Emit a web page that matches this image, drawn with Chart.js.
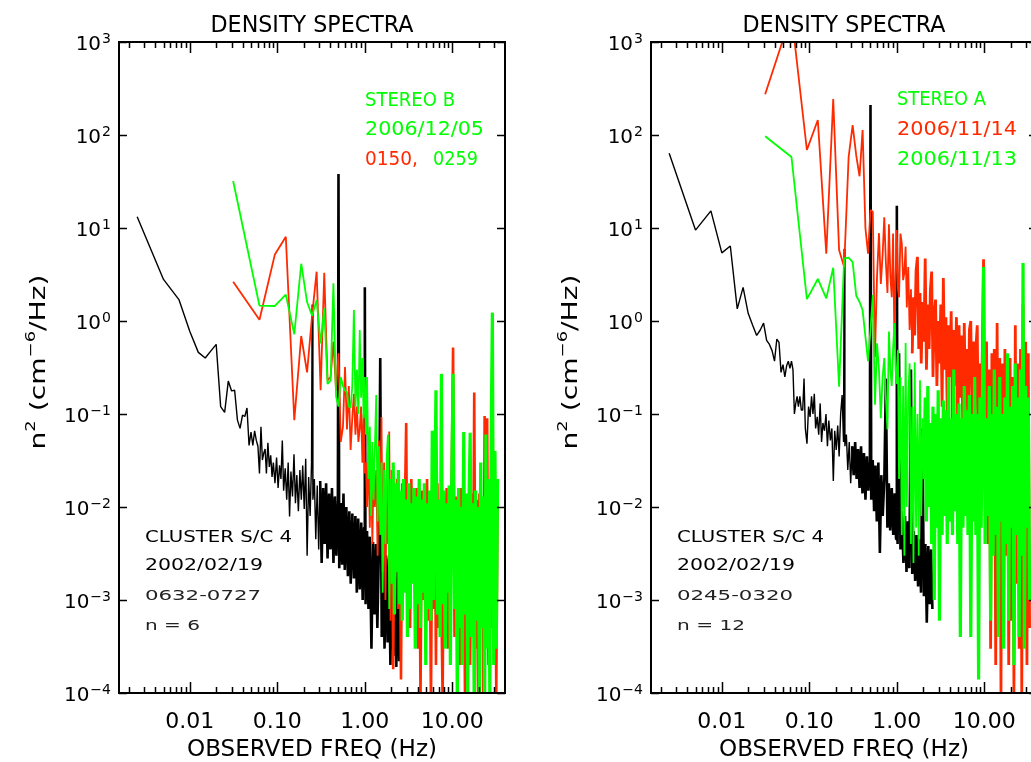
<!DOCTYPE html>
<html lang="en">
<head>
<meta charset="UTF-8">
<title>Density Spectra</title>
<script src="https://cdn.jsdelivr.net/npm/chart.js"></script>
<style>
  html, body { margin: 0; padding: 0; background: #fff; overflow: hidden; width: 1031px; height: 762px; }
  .panel { position: absolute; top: 0; width: 520px; height: 762px; }
  #left { left: 0; }
  #right { left: 532px; }
</style>
</head>
<body>
<div class="panel" id="left"><canvas id="chartB"></canvas></div>
<div class="panel" id="right"><canvas id="chartA"></canvas></div>
<script>
// Cluster S/C 4 frequency samples (Hz), shared by both panels
const clusterFreq = [
  0.0025, 0.005, 0.0075, 0.01, 0.0125, 0.015, 0.0175, 0.02, 0.0225, 0.025,
  0.0275, 0.03, 0.0325, 0.035, 0.0375, 0.04, 0.0425, 0.045, 0.0475, 0.05,
  0.0525, 0.055, 0.0575, 0.06, 0.0625, 0.065, 0.0675, 0.07, 0.0725, 0.075,
  0.078, 0.081, 0.084, 0.087, 0.09, 0.094, 0.098, 0.102, 0.106, 0.11,
  0.114, 0.118, 0.123, 0.128, 0.133, 0.138, 0.143, 0.149, 0.155, 0.161,
  0.167, 0.174, 0.181, 0.188, 0.195, 0.203, 0.211, 0.219, 0.228, 0.237,
  0.246, 0.25, 0.255, 0.265, 0.275, 0.286, 0.297, 0.309, 0.321, 0.334,
  0.347, 0.361, 0.375, 0.39, 0.405, 0.421, 0.438, 0.455, 0.473, 0.492,
  0.5, 0.51, 0.53, 0.55, 0.57, 0.59, 0.615, 0.64, 0.665, 0.69,
  0.72, 0.75, 0.78, 0.81, 0.84, 0.875, 0.91, 0.945, 0.98, 1.0,
  1.02, 1.06, 1.1, 1.14, 1.19, 1.24, 1.29, 1.34, 1.39, 1.45,
  1.5, 1.56, 1.62, 1.68, 1.75, 1.82, 1.89, 1.96, 2.04, 2.12,
  2.2, 2.29, 2.38, 2.47, 2.55
];

// Cluster 2002/02/19 0632-0727 (left panel, black)
const cluster0632 = [
  13.2, 2.8, 1.7, 0.77, 0.46, 0.40, 0.48, 0.56, 0.12, 0.104,
  0.226, 0.177, 0.18, 0.086, 0.07, 0.097, 0.094, 0.116, 0.046, 0.064,
  0.046, 0.066, 0.052, 0.045, 0.023, 0.073, 0.032, 0.038, 0.042, 0.023,
  0.049, 0.027, 0.036, 0.021, 0.03, 0.018, 0.034, 0.016, 0.028, 0.02,
  0.052, 0.015, 0.026, 0.012, 0.03, 0.0079, 0.024, 0.013, 0.037, 0.011,
  0.022, 0.009, 0.025, 0.012, 0.028, 0.0095, 0.033, 0.003, 0.021, 0.008,
  0.03, 1.5, 0.012, 0.02, 0.0045, 0.017, 0.0035, 0.019, 0.0025, 0.016,
  0.004, 0.018, 0.0028, 0.014, 0.0035, 0.016, 0.0025, 0.013, 0.003, 0.012,
  38, 0.0022, 0.011, 0.0024, 0.014, 0.0021, 0.01, 0.0018, 0.009, 0.0015,
  0.0085, 0.0017, 0.008, 0.0012, 0.0075, 0.0013, 0.0068, 0.001, 0.006, 2.3,
  0.0009, 0.0055, 0.0008, 0.0048, 0.0003, 0.0042, 0.0007, 0.004, 0.0005, 0.0037,
  0.4, 0.0004, 0.0034, 0.0003, 0.003, 0.00035, 0.0028, 0.0002, 0.0026, 0.00025,
  0.0024, 0.00019, 0.0022, 0.00022, 0.0012
];

// Cluster 2002/02/19 0245-0320 (right panel, black)
const cluster0245 = [
  63.5, 9.5, 15.3, 5.4, 6.4, 1.35, 2.3, 1.21, 0.9, 0.7,
  0.8, 0.95, 0.62, 0.56, 0.48, 0.37, 0.64, 0.59, 0.28, 0.34,
  0.25, 0.33, 0.37, 0.31, 0.37, 0.3, 0.1, 0.13, 0.155, 0.12,
  0.155, 0.11, 0.11, 0.24, 0.07, 0.048, 0.12, 0.093, 0.155, 0.1,
  0.165, 0.07, 0.093, 0.06, 0.13, 0.05, 0.08, 0.066, 0.1, 0.045,
  0.085, 0.052, 0.07, 0.019, 0.066, 0.041, 0.075, 0.035, 0.1, 0.16,
  0.05, 6.0, 0.045, 0.06, 0.025, 0.05, 0.018, 0.045, 0.022, 0.05,
  0.02, 0.042, 0.016, 0.045, 0.014, 0.038, 0.012, 0.035, 0.015, 0.03,
  210, 0.012, 0.032, 0.009, 0.028, 0.007, 0.03, 0.0032, 0.022, 0.008,
  0.02, 0.24, 0.006, 0.018, 0.0056, 0.016, 0.005, 0.014, 0.0045, 17.3,
  0.004, 0.45, 0.0035, 0.009, 0.0025, 0.008, 0.002, 0.007, 0.0022, 0.3,
  0.0019, 0.0055, 0.0016, 0.005, 0.0014, 0.0045, 0.0012, 0.07, 0.0011, 0.004,
  0.00057, 0.0038, 0.0009, 0.0035, 0.0008
];

// STEREO frequency samples (Hz), shared by all STEREO spectra
const stereoFreq = [
  0.03125, 0.0625, 0.09375, 0.125, 0.15625, 0.1875, 0.21875, 0.25, 0.28125, 0.3125,
  0.34375, 0.375, 0.40625, 0.4375, 0.46875, 0.5, 0.53125, 0.5625, 0.59375, 0.625,
  0.65625, 0.6875, 0.71875, 0.75, 0.78125, 0.8125, 0.84375, 0.875, 0.90625, 0.9375,
  0.96875, 1.0, 1.03, 1.06, 1.1, 1.14, 1.18, 1.22, 1.26, 1.3,
  1.35, 1.4, 1.45, 1.5, 1.55, 1.6, 1.66, 1.72, 1.78, 1.84,
  1.9, 1.97, 2.04, 2.11, 2.18, 2.26, 2.34, 2.42, 2.5, 2.59,
  2.68, 2.77, 2.87, 2.97, 3.07, 3.18, 3.29, 3.4, 3.52, 3.64,
  3.77, 3.9, 4.04, 4.18, 4.33, 4.48, 4.64, 4.8, 4.97, 5.14,
  5.32, 5.5, 5.7, 5.9, 6.1, 6.3, 6.5, 6.75, 7.0, 7.25,
  7.5, 7.75, 8.0, 8.3, 8.6, 8.9, 9.2, 9.5, 9.8, 10.2,
  10.6, 11.0, 11.4, 11.8, 12.2, 12.6, 13.0, 13.5, 14.0, 14.5,
  15.0, 15.5, 16.0, 16.6, 17.2, 17.8, 18.4, 19.0, 19.7, 20.4,
  21.1, 21.8, 22.6, 23.4, 24.2, 25.0, 25.9, 26.8, 27.7, 28.7,
  29.7, 30.7, 31.8, 32.9
];

// STEREO B 2006/12/05 0150 (red)
const stereoB0150 = [
  2.65, 1.03, 5.2, 8.05, 0.086, 0.69, 0.28, 1.16, 3.39, 0.18,
  3.3, 0.23, 0.25, 0.6, 0.18, 0.45, 0.05, 0.073, 0.32, 0.068,
  0.2, 0.041, 0.09, 0.165, 0.06, 0.12, 0.05, 0.07, 0.12, 0.03,
  0.1, 0.023, 0.03, 0.01, 0.04, 0.006, 0.032, 0.004, 0.03, 0.01,
  0.025, 0.003, 0.052, 0.008, 0.093, 0.002, 0.03, 0.001, 0.02, 0.004,
  0.065, 0.0006, 0.025, 0.00018, 0.015, 0.003, 0.02, 0.0008, 0.012, 0.00014,
  0.018, 0.002, 0.01, 0.08, 0.0009, 0.014, 0.0005, 0.02, 0.002, 0.012,
  0.0007, 0.016, 0.0003, 0.011, 0.00008, 0.015, 0.001, 0.012, 0.0004, 0.02,
  0.0006, 0.01, 0.00007, 0.015, 0.0008, 0.013, 0.0002, 0.018, 0.0005, 0.012,
  0.0009, 0.00008, 0.014, 0.0006, 0.016, 0.0003, 0.011, 0.001, 0.015, 0.52,
  0.0004, 0.013, 0.0009, 0.012, 0.0002, 0.016, 0.0007, 0.01, 0.00006, 0.013,
  0.0008, 0.011, 0.0002, 0.014, 0.0005, 0.17, 0.0003, 0.012, 0.00007, 0.014,
  0.0006, 0.011, 0.0001, 0.095, 0.0004, 0.09, 0.0002, 0.013, 0.0005, 0.5,
  0.0003, 0.012, 0.0001, 0.015
];

// STEREO B 2006/12/05 0259 (green)
const stereoB0259 = [
  32, 1.46, 1.45, 1.92, 0.72, 4.13, 1.6, 1.14, 1.68, 0.575,
  1.37, 0.21, 0.23, 2.54, 0.155, 0.12, 0.25, 0.2, 0.18, 0.17,
  0.12, 0.116, 0.2, 1.31, 0.12, 0.3, 0.1, 0.8, 0.15, 0.4,
  0.09, 0.25, 0.06, 0.25, 0.02, 0.073, 0.008, 0.05, 0.012, 0.04,
  0.16, 0.007, 0.045, 0.005, 0.03, 0.0012, 0.025, 0.004, 0.035, 0.06,
  0.0008, 0.02, 0.0015, 0.03, 0.0007, 0.018, 0.002, 0.025, 0.0009, 0.015,
  0.0006, 0.02, 0.0012, 0.012, 0.0004, 0.018, 0.0008, 0.011, 0.0015, 0.016,
  0.0003, 0.013, 0.0009, 0.02, 0.0005, 0.012, 0.0012, 0.018, 0.0002, 0.011,
  0.0008, 0.015, 0.0006, 0.066, 0.001, 0.014, 0.18, 0.0007, 0.012, 0.0004,
  0.27, 0.0009, 0.015, 0.0003, 0.011, 0.0012, 0.017, 0.0002, 0.013, 0.27,
  0.0008, 0.012, 0.00008, 0.016, 0.0005, 0.01, 0.0002, 0.064, 0.0007, 0.014,
  0.0001, 0.012, 0.063, 0.0004, 0.011, 0.00006, 0.015, 0.0006, 0.01, 0.0001,
  0.03, 0.0005, 0.013, 0.00007, 0.06, 0.0003, 0.02, 0.0001, 0.045, 1.23,
  0.0002, 0.04, 0.0003, 0.02
];

// STEREO A 2006/11/14 (red)
const stereoA1114 = [
  274, 2000, 69, 145, 5.3, 244, 5.8, 3.8, 58, 128,
  60, 36, 113, 10, 5.3, 15.6, 15, 0.41, 3, 8.8,
  2.5, 5.1, 13, 4.2, 2.0, 11, 3, 1.8, 8.7, 0.63,
  3, 9.5, 2.2, 1.8, 8.7, 6.8, 2.75, 3.3, 6.3, 1.4,
  3.8, 0.8, 2.2, 0.45, 1.8, 0.7, 3.5, 4.9, 0.5, 2.0,
  0.35, 1.6, 0.6, 4.7, 0.3, 1.5, 0.5, 2.2, 3.4, 0.25,
  1.2, 1.7, 0.2, 1.0, 0.35, 1.5, 0.12, 2.9, 0.3, 1.1,
  0.1, 0.9, 0.25, 1.27, 0.08, 0.8, 0.2, 1.1, 0.06, 0.9,
  0.15, 0.7, 0.05, 0.95, 0.12, 0.5, 0.045, 0.8, 1.0, 0.07,
  0.6, 0.04, 0.5, 0.9, 0.03, 0.35, 0.06, 0.5, 4.6, 0.02,
  0.6, 0.004, 0.3, 0.0003, 0.45, 0.008, 0.5, 0.0002, 0.95, 0.002,
  0.4, 0.0001, 0.35, 0.0009, 0.5, 0.003, 0.3, 0.0002, 0.4, 0.0006,
  0.25, 0.0001, 0.9, 0.0015, 0.35, 0.0003, 0.5, 0.0001, 1.5, 0.0008,
  0.6, 0.0002, 0.45, 0.0005
];

// STEREO A 2006/11/13 (green)
const stereoA1113 = [
  97, 58, 1.72, 2.83, 1.75, 3.74, 0.197, 4.7, 4.8, 4.3,
  1.87, 1.6, 1.31, 0.68, 0.37, 0.8, 1.9, 0.126, 0.575, 0.3,
  0.09, 0.25, 0.4, 0.15, 0.068, 0.77, 0.3, 0.2, 0.5, 0.95,
  0.3, 0.21, 0.49, 0.02, 0.25, 0.005, 0.2, 0.003, 0.58, 0.01,
  0.15, 0.35, 0.004, 0.12, 0.0025, 0.36, 0.006, 0.1, 0.003, 0.23,
  0.008, 0.09, 0.02, 0.15, 0.007, 0.2, 0.01, 0.08, 0.004, 0.12,
  0.001, 0.1, 0.006, 0.18, 0.0006, 0.09, 0.005, 0.14, 0.008, 0.11,
  0.004, 0.25, 0.007, 0.09, 0.005, 0.3, 0.009, 0.1, 0.004, 0.13,
  0.0004, 0.09, 0.006, 0.2, 0.008, 0.11, 0.005, 0.16, 0.0004, 0.1,
  0.007, 0.25, 0.005, 0.1, 0.00014, 0.15, 0.006, 0.12, 3.8, 0.004,
  0.09, 0.008, 0.2, 0.0006, 0.1, 0.003, 0.3, 0.005, 0.12, 0.0004,
  0.25, 0.007, 0.1, 0.0003, 0.15, 0.004, 0.45, 0.0006, 0.12, 0.006,
  0.2, 0.0002, 0.35, 0.005, 0.15, 0.0004, 0.3, 0.003, 4.2, 0.0003,
  0.2, 0.006, 0.15, 0.001
];

// axis ticks and labels
const xMajorTicks = [0.01, 0.1, 1, 10];
const xTickLabels = ['0.01', '0.10', '1.00', '10.00'];
const xDecades = [0.001, 0.01, 0.1, 1, 10];
const yExponents = [-4, -3, -2, -1, 0, 1, 2, 3];

// panel texts
const stereoLabelsB = ['STEREO B', '2006/12/05', '0150,', '0259'];
const stereoLabelsA = ['STEREO A', '2006/11/14', '2006/11/13'];
const clusterNotesB = ['CLUSTER S/C 4', '2002/02/19', '0632-0727', 'n = 6'];
const clusterNotesA = ['CLUSTER S/C 4', '2002/02/19', '0245-0320', 'n = 12'];

const GREEN = '#00ff00';
const RED = '#ff2a00';
const FONT = '"DejaVu Sans", "Liberation Sans", sans-serif';

// draw text stretched horizontally to a given width
function fitText(ctx, str, x, y, size, color, width, align) {
    ctx.font = size + 'px ' + FONT;
    const w0 = ctx.measureText(str).width;
    const w = width || w0;
    let x0 = x;
    if (align === 'center') x0 = x - w / 2;
    if (align === 'right') x0 = x - w;
    ctx.save();
    ctx.translate(x0, y);
    ctx.scale(w / w0, 1);
    ctx.textAlign = 'left';
    ctx.textBaseline = 'alphabetic';
    ctx.fillStyle = color;
    ctx.fillText(str, 0, 0);
    ctx.restore();
    return w;
}

function makeFrame(drawTexts) {
    return {
        id: 'frame',
        afterDraw(chart) {
            const { ctx, chartArea: a, scales: { x, y } } = chart;
            const cx = (a.left + a.right) / 2;
            ctx.save();

            // box
            ctx.strokeStyle = '#000';
            ctx.lineWidth = 2;
            ctx.strokeRect(a.left, a.top, a.right - a.left, a.bottom - a.top);

            // inward ticks
            ctx.lineWidth = 1.5;
            ctx.beginPath();
            xDecades.forEach(d => {
                for (let m = 1; m <= 9; m++) {
                    const v = d * m;
                    if (v <= x.min || v >= x.max) continue;
                    const px = Math.round(x.getPixelForValue(v)) + 0.5;
                    const len = m === 1 ? 11 : 6;
                    ctx.moveTo(px, a.bottom); ctx.lineTo(px, a.bottom - len);
                    ctx.moveTo(px, a.top); ctx.lineTo(px, a.top + len);
                }
            });
            yExponents.forEach(e => {
                const py = Math.round(y.getPixelForValue(Math.pow(10, e))) + 0.5;
                ctx.moveTo(a.left, py); ctx.lineTo(a.left + 8, py);
                ctx.moveTo(a.right, py); ctx.lineTo(a.right - 8, py);
            });
            ctx.stroke();

            // x tick labels
            xMajorTicks.forEach((v, i) => {
                fitText(ctx, xTickLabels[i], x.getPixelForValue(v), a.bottom + 35, 22, '#000', 0, 'center');
            });

            // y tick labels 10^e
            yExponents.forEach(e => {
                const py = y.getPixelForValue(Math.pow(10, e));
                const ex = e < 0 ? '\u2212' + Math.abs(e) : String(e);
                ctx.font = '14px ' + FONT;
                const we = ctx.measureText(ex).width;
                const right = a.left - 8;
                fitText(ctx, ex, right - we, py + 1, 14, '#000', 0, 'left');
                fitText(ctx, '10', right - we - 1, py + 8, 20, '#000', 0, 'right');
            });

            // titles
            fitText(ctx, 'DENSITY SPECTRA', cx, 32, 23, '#000', 203, 'center');
            fitText(ctx, 'OBSERVED FREQ (Hz)', cx, 756, 23, '#000', 250, 'center');

            // y title, rotated
            ctx.save();
            ctx.translate(45, 362);
            ctx.rotate(-Math.PI / 2);
            const parts = [['n', 22, 0], ['2', 14, -10], [' (cm', 22, 0], ['\u22126', 14, -10], ['/Hz)', 22, 0]];
            let total = 0;
            parts.forEach(p => { ctx.font = p[1] + 'px ' + FONT; total += ctx.measureText(p[0]).width; });
            const k = 175 / total;
            let tx = -175 / 2;
            parts.forEach(p => {
                ctx.font = p[1] + 'px ' + FONT;
                const w = ctx.measureText(p[0]).width * k;
                fitText(ctx, p[0], tx, p[2], p[1], '#000', w, 'left');
                tx += w;
            });
            ctx.restore();

            drawTexts(ctx);
            ctx.restore();
        }
    };
}

function drawNotes(ctx, notes, lastWidth) {
    fitText(ctx, notes[0], 145, 542, 16, '#000', 147, 'left');
    fitText(ctx, notes[1], 145, 570, 16, '#000', 118, 'left');
    fitText(ctx, notes[2], 145, 600, 14, '#222', 116, 'left');
    fitText(ctx, notes[3], 145, 630, 14, '#222', lastWidth, 'left');
}

function makePanel(id, series, drawTexts) {
    new Chart(document.getElementById(id), {
        type: 'line',
        data: {
            datasets: series.map(s => ({
                data: s.freq.map((f, i) => ({ x: f, y: s.vals[i] })),
                borderColor: s.color,
                borderWidth: s.width,
                borderJoinStyle: 'bevel',
                segment: {
                    borderWidth: c => (c.p0.parsed.x >= s.denseFrom ? s.denseWidth : undefined)
                },
                pointRadius: 0,
                tension: 0,
                fill: false
            }))
        },
        options: {
            responsive: true,
            maintainAspectRatio: false,
            animation: false,
            layout: { padding: { left: 119, right: 15, top: 42, bottom: 69 } },
            scales: {
                x: { type: 'logarithmic', min: 0.00155, max: 40, display: false },
                y: { type: 'logarithmic', min: 1e-4, max: 1e3, display: false }
            },
            plugins: { legend: { display: false }, tooltip: { enabled: false } }
        },
        plugins: [makeFrame(drawTexts)]
    });
}

// left panel: STEREO B vs Cluster
makePanel('chartB', [
    { freq: stereoFreq, vals: stereoB0259, color: GREEN, width: 1.8, denseFrom: 2.0, denseWidth: 3.2 },
    { freq: stereoFreq, vals: stereoB0150, color: RED, width: 1.8, denseFrom: 2.0, denseWidth: 2.6 },
    { freq: clusterFreq, vals: cluster0632, color: '#000', width: 1.4, denseFrom: 0.3, denseWidth: 2.6 }
], ctx => {
    fitText(ctx, stereoLabelsB[0], 365, 106, 19, GREEN, 90, 'left');
    fitText(ctx, stereoLabelsB[1], 365, 135, 19, GREEN, 119, 'left');
    fitText(ctx, stereoLabelsB[2], 365, 165, 19, RED, 53, 'left');
    fitText(ctx, stereoLabelsB[3], 433, 165, 19, GREEN, 45, 'left');
    drawNotes(ctx, clusterNotesB, 55);
});

// right panel: STEREO A vs Cluster
makePanel('chartA', [
    { freq: stereoFreq, vals: stereoA1113, color: GREEN, width: 1.8, denseFrom: 2.0, denseWidth: 3.2 },
    { freq: stereoFreq, vals: stereoA1114, color: RED, width: 1.8, denseFrom: 1.5, denseWidth: 2.8 },
    { freq: clusterFreq, vals: cluster0245, color: '#000', width: 1.4, denseFrom: 0.3, denseWidth: 2.6 }
], ctx => {
    fitText(ctx, stereoLabelsA[0], 365, 105, 19, GREEN, 89, 'left');
    fitText(ctx, stereoLabelsA[1], 365, 135, 19, RED, 120, 'left');
    fitText(ctx, stereoLabelsA[2], 365, 165, 19, GREEN, 120, 'left');
    drawNotes(ctx, clusterNotesA, 68);
});
</script>
</body>
</html>
